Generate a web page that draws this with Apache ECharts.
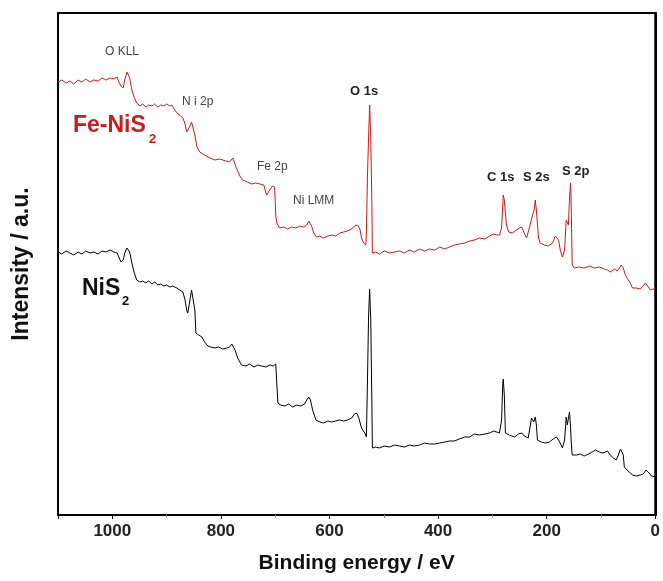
<!DOCTYPE html>
<html>
<head>
<meta charset="utf-8">
<script src="https://cdn.jsdelivr.net/npm/echarts@6/dist/echarts.min.js"></script>
<style>html,body{margin:0;padding:0;background:#fff;}#c{width:663px;height:581px;}</style>
</head>
<body>
<div id="c"></div>
<script>
// Binding energy (eV) and intensity (a.u.)
const feEnergy = [1100,1093,1085,1078,1071,1063,1056,1049,1041,1034,1026,1019,1012,1004,997,991,988,984,980,977,973,971,968,964,960,955,949,944,938,933,927,922,916,911,905,900,894,890,885,879,874,870,866,863,861,857,854,852,848,844,839,830,820,811,802,791,784,778,773,765,760,751,743,736,728,721,716,710,705,701,699,697,692,684,677,670,662,655,648,642,638,636,633,629,624,618,611,603,596,589,581,574,567,559,554,548,544,541,537,533,532,530,528,526,524,522,521,515,508,499,489,480,471,462,453,444,434,425,416,406,397,388,379,370,361,351,342,333,324,314,305,298,292,287,283,280,278,274,270,263,256,250,246,243,237,232,226,223,221,219,215,212,204,197,189,184,182,178,175,171,167,164,160,158,156,155,153,149,140,131,121,112,103,94,88,83,75,70,66,63,59,55,52,46,42,35,28,22,18,15,9,4,0];
const feIntensity = [433,435,432,434,431,435,433,436,433,435,434,437,435,437,436,438,433,429,427,435,443,444,437,425,418,412,409,411,408,410,409,411,408,410,409,411,409,410,405,401,399,397,391,383,382,389,393,392,380,368,363,360,357,355,356,354,353,357,349,339,335,333,331,332,331,330,320,325,329,328,300,292,287,288,286,288,287,289,288,290,294,295,289,282,278,279,277,279,280,279,282,283,284,286,289,290,286,277,272,270,283,340,378,410,375,315,262,263,261,264,262,263,264,262,265,263,266,264,266,265,268,266,268,270,271,272,274,275,277,276,279,281,280,280,287,320,315,290,283,282,285,287,288,284,277,287,300,305,315,305,277,272,270,269,272,279,280,275,265,258,265,295,290,315,332,315,250,247,248,247,249,247,248,246,245,243,246,244,247,250,247,240,237,232,227,227,226,229,232,230,225,226,226];

const niEnergy = [1100,1093,1085,1078,1071,1063,1056,1049,1041,1034,1026,1019,1012,1004,997,991,988,984,980,977,973,971,968,964,960,955,949,944,938,933,927,922,916,911,905,900,894,889,881,876,870,866,863,861,857,854,852,848,846,841,835,830,824,819,811,804,797,789,784,780,778,774,769,762,754,747,739,732,725,717,710,703,699,697,695,690,682,675,668,660,653,646,642,638,635,631,625,618,611,603,596,589,581,574,567,559,554,550,546,541,535,532,530,528,526,524,522,521,515,508,499,489,480,471,462,453,444,434,425,416,406,397,388,379,370,361,351,342,333,324,314,305,298,292,287,283,281,280,278,276,269,259,252,246,241,234,230,228,224,221,219,217,210,202,195,188,182,177,171,167,164,162,158,156,155,153,145,138,131,123,116,110,107,103,97,92,88,83,77,72,68,64,63,59,57,52,46,42,35,28,22,17,13,7,0];
const niIntensity = [263,261,264,262,260,263,261,264,262,263,261,264,263,265,263,262,258,253,255,262,267,268,263,252,243,235,233,234,232,234,231,233,230,231,229,230,228,229,227,225,223,215,205,202,215,225,227,205,182,180,178,173,169,168,167,168,166,167,168,171,172,165,157,150,149,151,148,150,149,148,150,149,151,152,112,110,109,111,108,110,109,111,115,118,115,105,95,93,92,94,93,94,95,94,95,97,101,102,97,87,82,78,135,200,226,195,115,67,68,67,69,68,70,69,68,70,69,70,72,71,71,72,73,74,74,76,78,78,81,80,81,82,84,83,82,95,130,136,120,82,80,78,81,82,79,77,90,97,93,98,90,75,73,72,73,76,78,74,67,75,98,90,103,88,75,60,60,61,59,61,63,65,67,63,62,63,64,60,57,55,60,66,68,60,48,45,42,40,39,40,41,45,43,39,38];

const xTicks = [0, 200, 400, 600, 800, 1000];
const peakLabels = ['O KLL', 'N i 2p', 'Fe 2p', 'Ni LMM', 'O 1s', 'C 1s', 'S 2s', 'S 2p'];

function pairs(xs, ys) { return xs.map((x, i) => [x, ys[i]]); }

const chart = echarts.init(document.getElementById('c'), null, {renderer: 'canvas'});
const lightLbl = {fontFamily: 'Liberation Sans, Arial, sans-serif', fontSize: 12, fill: '#444'};
const darkLbl = {fontFamily: 'Liberation Sans, Arial, sans-serif', fontSize: 13, fontWeight: 'bold', fill: '#222'};

chart.setOption({
  animation: false,
  backgroundColor: '#fff',
  grid: {left: 58, right: 7, top: 13, bottom: 66, show: true, borderColor: '#000', borderWidth: 2, backgroundColor: 'transparent'},
  xAxis: {
    type: 'value', min: 0, max: 1100, interval: 200, inverse: true,
    name: 'Binding energy / eV', nameLocation: 'middle', nameGap: 38,
    nameTextStyle: {fontFamily: 'Liberation Sans, Arial, sans-serif', fontSize: 21, fontWeight: 'bold', color: '#111'},
    axisLine: {show: true, lineStyle: {color: '#000', width: 2}},
    axisTick: {show: true, length: 4, lineStyle: {color: '#000', width: 1}},
    minorTick: {show: true, splitNumber: 2, length: 3, lineStyle: {color: '#999'}},
    splitLine: {show: false},
    axisLabel: {
      margin: 8, fontFamily: 'Liberation Sans, Arial, sans-serif', fontSize: 17, fontWeight: 'bold', color: '#222',
      formatter: v => xTicks.indexOf(v) >= 0 ? String(v) : ''
    }
  },
  yAxis: {
    type: 'value', min: 0, max: 502,
    name: 'Intensity / a.u.', nameLocation: 'middle', nameGap: 25,
    nameTextStyle: {fontFamily: 'Liberation Sans, Arial, sans-serif', fontSize: 23, fontWeight: 'bold', color: '#111'},
    axisLine: {show: true, lineStyle: {color: '#000', width: 2}},
    axisTick: {show: false}, axisLabel: {show: false}, splitLine: {show: false}
  },
  series: [
    {type: 'line', name: 'Fe-NiS2', data: pairs(feEnergy, feIntensity), showSymbol: false, lineStyle: {color: '#cc1a1a', width: 1}, z: 3},
    {type: 'line', name: 'NiS2', data: pairs(niEnergy, niIntensity), showSymbol: false, lineStyle: {color: '#000', width: 1}, z: 2}
  ],
  graphic: [
    {type: 'text', left: 105, top: 46, style: Object.assign({text: peakLabels[0]}, lightLbl)},
    {type: 'text', left: 182, top: 96, style: Object.assign({text: peakLabels[1]}, lightLbl)},
    {type: 'text', left: 257, top: 161, style: Object.assign({text: peakLabels[2]}, lightLbl)},
    {type: 'text', left: 293, top: 195, style: Object.assign({text: peakLabels[3]}, lightLbl)},
    {type: 'text', left: 350, top: 85, style: Object.assign({text: peakLabels[4]}, darkLbl)},
    {type: 'text', left: 487, top: 171, style: Object.assign({text: peakLabels[5]}, darkLbl)},
    {type: 'text', left: 523, top: 171, style: Object.assign({text: peakLabels[6]}, darkLbl)},
    {type: 'text', left: 562, top: 165, style: Object.assign({text: peakLabels[7]}, darkLbl)},
    {type: 'text', left: 73, top: 114, style: {text: 'Fe-NiS', fontFamily: 'Liberation Sans, Arial, sans-serif', fontSize: 23, fontWeight: 'bold', fill: '#cc1a1a'}},
    {type: 'text', left: 149, top: 133, style: {text: '2', fontFamily: 'Liberation Sans, Arial, sans-serif', fontSize: 13, fontWeight: 'bold', fill: '#cc1a1a'}},
    {type: 'text', left: 82, top: 277, style: {text: 'NiS', fontFamily: 'Liberation Sans, Arial, sans-serif', fontSize: 23, fontWeight: 'bold', fill: '#111'}},
    {type: 'text', left: 122, top: 295, style: {text: '2', fontFamily: 'Liberation Sans, Arial, sans-serif', fontSize: 13, fontWeight: 'bold', fill: '#111'}}
  ]
});
</script>
</body>
</html>
